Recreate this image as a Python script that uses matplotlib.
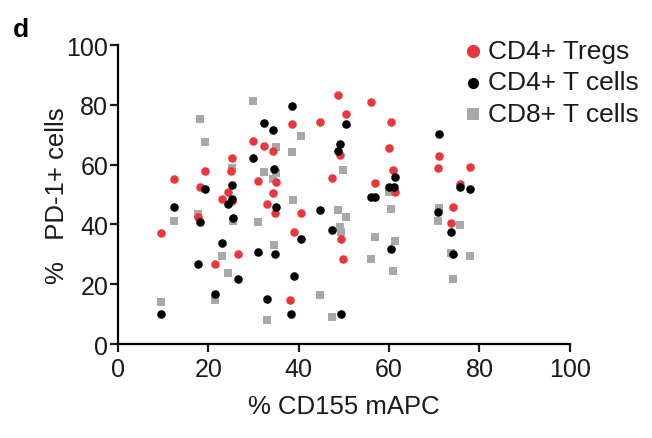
import numpy as np
import matplotlib.pyplot as plt

plt.rcParams['font.family'] = ['Liberation Sans', 'DejaVu Sans']

# CD4+ Tregs
treg_x = [9.5, 12.5, 19.2, 18.2, 17.6, 21.4, 23.0, 24.4, 25.0, 25.3, 25.3, 26.6,
          29.8, 31.0, 32.4, 32.9, 34.2, 34.4, 34.9, 34.7, 38.5, 38.9, 38.1, 40.5,
          44.8, 48.7, 50.5, 49.2, 47.4, 49.4, 49.8, 56.0, 60.4, 60.0, 56.9, 60.8,
          61.2, 71.1, 70.8, 77.8, 75.6, 74.2, 73.6]
treg_y = [37.1, 55.2, 58.0, 52.7, 42.4, 26.7, 48.4, 51.0, 57.8, 62.1, 47.8, 30.0,
          68.0, 54.6, 66.3, 46.9, 64.7, 50.6, 54.1, 43.8, 73.6, 37.4, 14.9, 44.0,
          74.3, 83.4, 77.0, 63.2, 55.4, 35.3, 28.4, 81.0, 74.3, 65.6, 53.9, 58.3,
          50.8, 62.8, 58.9, 59.3, 53.6, 45.9, 40.4]

# CD4+ T cells
cd4_x = [9.5, 12.5, 17.6, 18.2, 19.3, 21.4, 23.0, 24.4, 25.2, 25.3, 25.5, 26.6,
         29.8, 31.0, 32.4, 34.2, 32.9, 34.6, 35.0, 34.7, 38.4, 38.9, 38.2, 40.6,
         44.8, 47.4, 49.2, 48.7, 50.5, 49.4, 56.0, 56.9, 60.0, 61.1, 61.2, 60.4,
         71.1, 70.8, 73.6, 74.2, 75.6, 77.8]
cd4_y = [10.1, 45.7, 26.7, 40.7, 51.9, 16.8, 33.8, 46.8, 53.2, 48.4, 42.2, 21.6,
         62.2, 30.7, 73.8, 71.6, 15.0, 58.6, 45.8, 30.0, 79.7, 22.7, 10.1, 35.1,
         44.8, 38.2, 67.0, 64.7, 73.6, 10.1, 49.1, 49.1, 52.4, 52.7, 55.8, 31.8,
         70.2, 44.1, 37.4, 30.2, 52.4, 51.8]

# CD8+ T cells
cd8_x = [9.5, 12.5, 18.2, 19.2, 17.6, 21.4, 23.0, 24.4, 25.2, 25.5, 29.8, 31.0,
         32.4, 34.2, 34.9, 35.0, 34.5, 32.9, 38.5, 38.8, 40.6, 44.8, 47.4, 48.7,
         49.2, 49.4, 49.9, 50.5, 56.0, 56.9, 60.0, 60.4, 61.2, 60.8, 70.8, 71.1,
         73.6, 74.2, 75.6, 77.8]
cd8_y = [13.9, 41.3, 75.2, 67.7, 43.6, 14.9, 29.4, 23.8, 58.8, 41.3, 81.4, 40.9,
         57.7, 55.2, 66.0, 57.2, 33.0, 8.2, 64.3, 48.1, 69.7, 16.4, 9.2, 44.8,
         39.3, 37.4, 58.3, 42.4, 28.4, 35.8, 50.8, 45.1, 34.4, 24.4, 41.0, 45.4,
         30.4, 21.7, 39.8, 29.4]

red = '#e8383d'
grey = '#a8a8a8'

fig = plt.figure(figsize=(6.52, 4.39), dpi=100)
ax = fig.add_axes([0.181, 0.214, 0.693, 0.681])

ax.scatter(cd8_x, cd8_y, marker='s', s=32, color=grey, linewidths=0, clip_on=False, zorder=2)
ax.scatter(treg_x, treg_y, marker='o', s=38, color=red, linewidths=0, clip_on=False, zorder=3)
ax.scatter(cd4_x, cd4_y, marker='o', s=38, color='black', linewidths=0, clip_on=False, zorder=4)

ax.set_xlim(0, 100)
ax.set_ylim(0, 100)
ax.set_xticks(np.arange(0, 101, 20))
ax.set_yticks(np.arange(0, 101, 20))
ax.spines['top'].set_visible(False)
ax.spines['right'].set_visible(False)
for sp in ['left', 'bottom']:
    ax.spines[sp].set_linewidth(1.6)
ax.tick_params(direction='out', length=5.5, width=1.6, labelsize=18, pad=1.5, colors='#1a1a1a')
ax.tick_params(axis='x', pad=4)

ax.set_xlabel('% CD155 mAPC', fontsize=18.5, labelpad=9, color='#1a1a1a')
ax.set_ylabel('%   PD-1+ cells', fontsize=18.5, labelpad=-2, color='#1a1a1a')

h1 = ax.scatter([], [], marker='o', s=90, color=red, linewidths=0)
h2 = ax.scatter([], [], marker='o', s=65, color='black', linewidths=0)
h3 = ax.scatter([], [], marker='s', s=65, color=grey, linewidths=0)
leg = fig.legend([h1, h2, h3], ['CD4+ Tregs', 'CD4+ T cells', 'CD8+ T cells'],
                 loc='upper left', bbox_to_anchor=(0.685, 0.94), frameon=False,
                 fontsize=19, handletextpad=0.05, labelspacing=0.3, handlelength=1.0,
                 borderpad=0)
for t in leg.get_texts():
    t.set_color('#1a1a1a')

fig.text(0.02, 0.915, 'd', fontsize=19, fontweight='bold')

fig.savefig('out.png', dpi=100)
